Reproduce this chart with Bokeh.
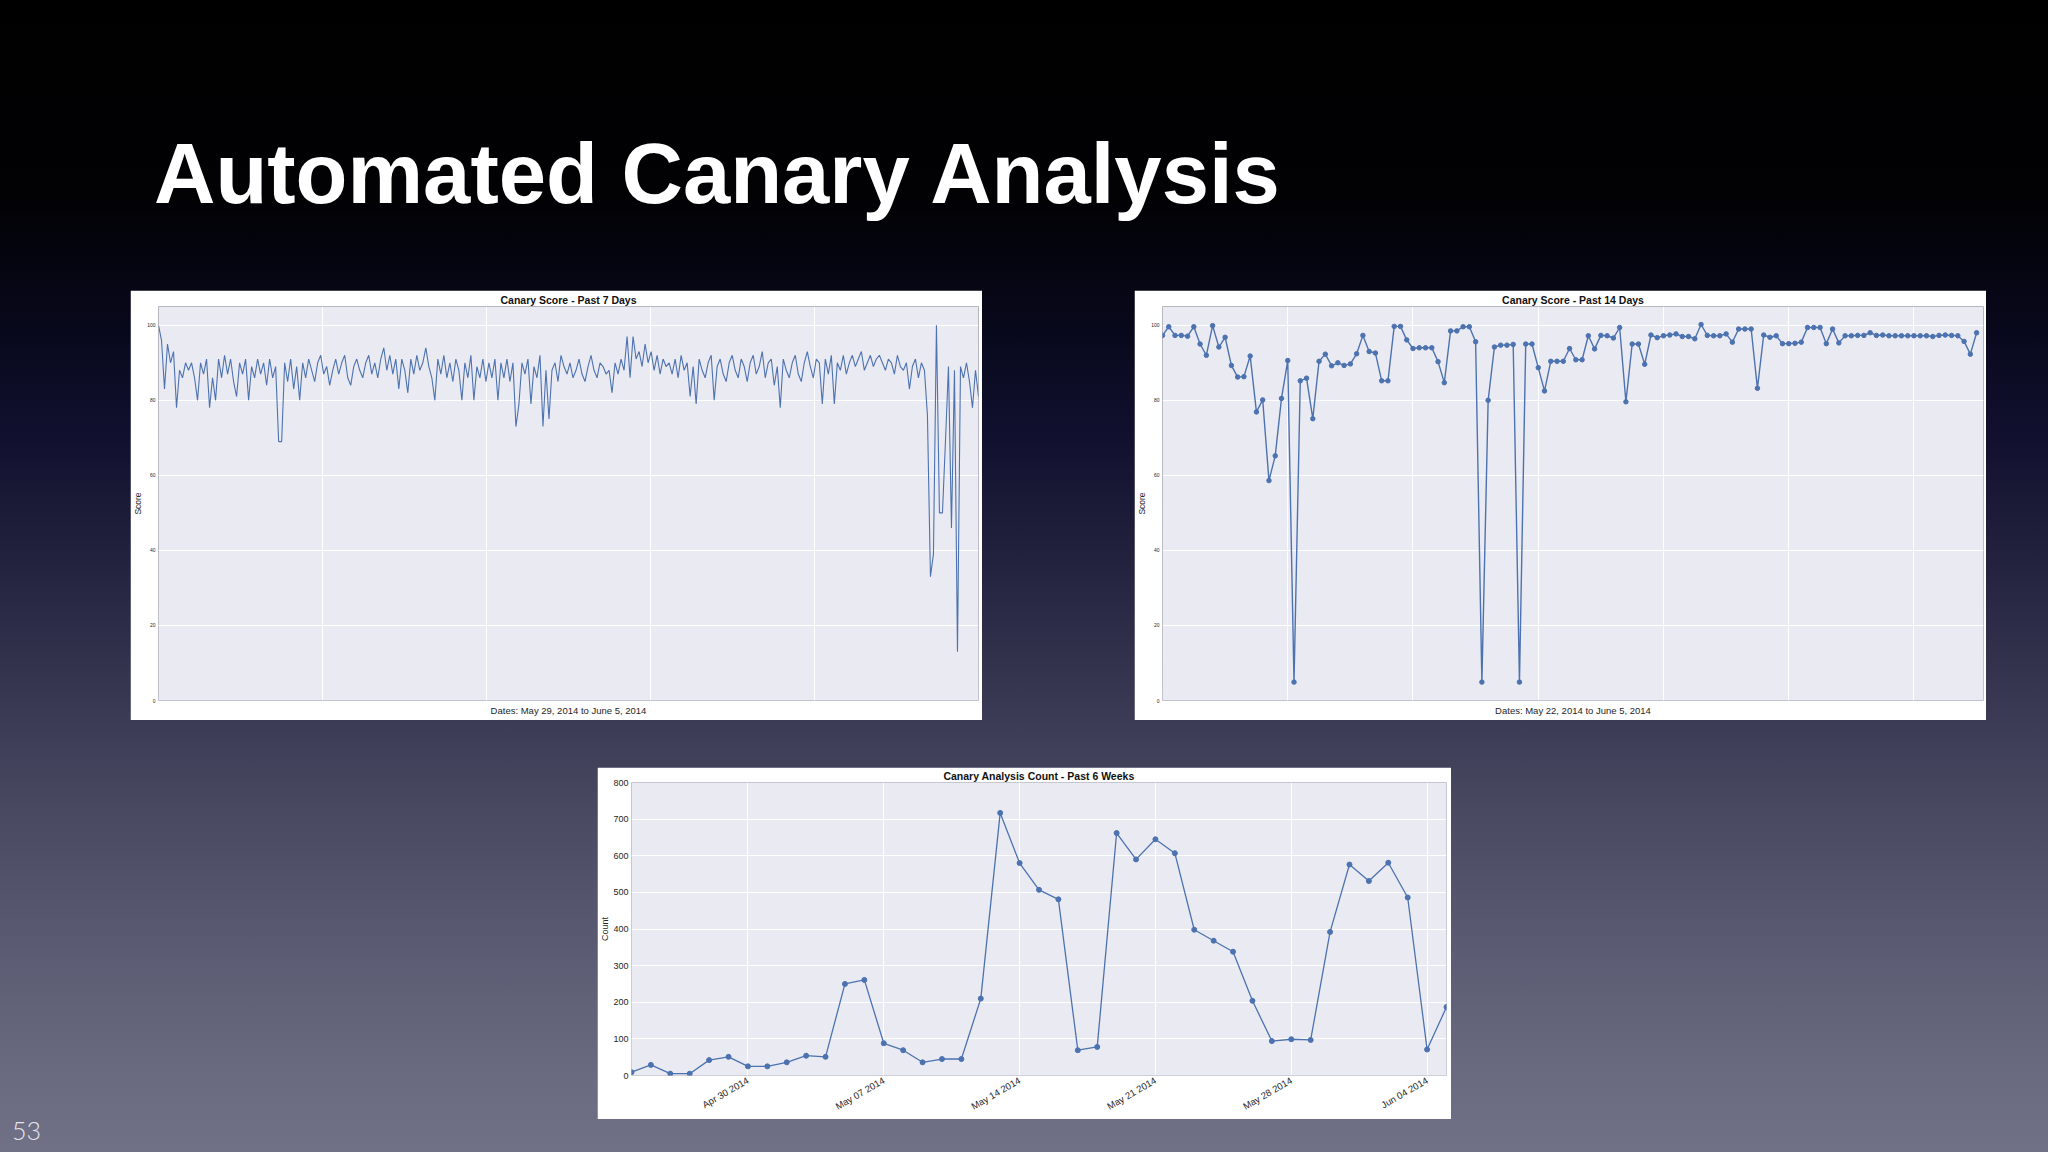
import math
import pandas as pd
from bokeh.plotting import figure
from bokeh.layouts import column, row
from bokeh.models import (Div, Spacer, FixedTicker, DatetimeTickFormatter, Range1d,
                          GlobalInlineStyleSheet, ColumnDataSource)
from bokeh.embed import file_html
from bokeh.resources import INLINE

# ---------------- data ----------------
slide_title = "Automated Canary Analysis"
page_number = "53"

title_7d = "Canary Score - Past 7 Days"
xlabel_7d = "Dates: May 29, 2014 to June 5, 2014"
score_7d = [
    100, 96, 83, 95, 90, 93, 78, 88, 86, 90,
    88, 90, 86, 80, 90, 87, 91, 78, 86, 80,
    91, 86, 92, 87, 91, 85, 81, 90, 87, 91,
    80, 89, 86, 91, 87, 90, 84, 91, 86, 89,
    69, 69, 90, 85, 91, 83, 89, 80, 90, 86,
    91, 88, 85, 90, 92, 87, 89, 84, 88, 91,
    87, 90, 92, 86, 84, 89, 91, 88, 86, 90,
    92, 87, 90, 86, 91, 94, 88, 92, 87, 91,
    83, 91, 88, 82, 91, 87, 92, 88, 90, 94,
    89, 86, 80, 91, 87, 92, 86, 90, 85, 91,
    88, 80, 90, 86, 92, 80, 89, 86, 91, 85,
    90, 86, 91, 80, 90, 86, 91, 85, 90, 73,
    79, 90, 87, 91, 79, 89, 86, 92, 73, 88,
    75, 88, 90, 85, 92, 89, 87, 90, 86, 88,
    91, 87, 85, 89, 92, 88, 86, 90, 89, 87,
    88, 82, 90, 87, 91, 88, 97, 86, 97, 91,
    93, 89, 95, 90, 93, 88, 92, 87, 91, 89,
    90, 87, 91, 86, 92, 88, 90, 81, 89, 79,
    91, 88, 86, 90, 92, 80, 89, 91, 87, 85,
    90, 92, 88, 86, 91, 89, 85, 90, 92, 87,
    89, 93, 86, 90, 91, 84, 89, 78, 91, 88,
    86, 90, 92, 87, 85, 90, 93, 89, 86, 91,
    90, 79, 91, 87, 92, 79, 90, 88, 92, 87,
    90, 92, 89, 91, 93, 88, 90, 92, 89, 91,
    92, 90, 88, 91, 90, 87, 92, 89, 88, 90,
    83, 89, 91, 86, 90, 88, 76, 33, 39, 100,
    50, 50, 69, 89, 46, 88, 13, 89, 86, 90,
    85, 78, 88, 81,
]

title_14d = "Canary Score - Past 14 Days"
xlabel_14d = "Dates: May 22, 2014 to June 5, 2014"
score_14d = [
    97.3, 99.6, 97.3, 97.3, 97.1, 99.6, 95.0, 92.0, 99.9, 94.2,
    96.8, 89.3, 86.2, 86.3, 91.8, 76.9, 80.1, 58.6, 65.2, 80.5,
    90.6, 4.9, 85.2, 85.9, 75.1, 90.4, 92.3, 89.2, 90.0, 89.3,
    89.7, 92.4, 97.3, 93.0, 92.6, 85.2, 85.2, 99.7, 99.7, 96.1,
    93.8, 94.0, 94.0, 94.0, 90.3, 84.7, 98.5, 98.5, 99.6, 99.6,
    95.6, 4.9, 80.0, 94.2, 94.7, 94.7, 94.9, 4.9, 95.0, 95.0,
    88.7, 82.5, 90.4, 90.4, 90.4, 93.8, 90.8, 90.8, 97.2, 93.7,
    97.3, 97.2, 96.6, 99.4, 79.6, 95.0, 95.0, 89.6, 97.4, 96.7,
    97.2, 97.4, 97.7, 97.0, 97.0, 96.4, 100.2, 97.3, 97.2, 97.2,
    97.7, 95.5, 99.0, 99.0, 99.0, 83.2, 97.4, 96.8, 97.2, 95.1,
    95.1, 95.2, 95.5, 99.4, 99.4, 99.4, 95.1, 99.0, 95.3, 97.2,
    97.2, 97.3, 97.3, 98.0, 97.3, 97.4, 97.2, 97.2, 97.2, 97.2,
    97.2, 97.2, 97.2, 97.0, 97.3, 97.4, 97.3, 97.2, 95.7, 92.3,
    98.0,
]
score_ticks = [0, 20, 40, 60, 80, 100]
score_label = "Score"

title_6w = "Canary Analysis Count - Past 6 Weeks"
start_6w = "2014-04-24"
counts_6w = [
    9, 29, 5, 5, 42, 51, 25, 25, 36, 54,
    51, 250, 261, 88, 69, 36, 45, 45, 210, 717,
    580, 507, 481, 69, 78, 662, 590, 645, 607, 398,
    368, 338, 204, 94, 99, 97, 392, 576, 531, 581,
    486, 71, 187,
]
tick_dates_6w = ["2014-04-30", "2014-05-07", "2014-05-14", "2014-05-21", "2014-05-28", "2014-06-04"]
count_ticks = [0, 100, 200, 300, 400, 500, 600, 700, 800]
count_label = "Count"

# ---------------- styling ----------------
FONT = "Liberation Sans"
BLUE = "#4c72b0"
PANEL = "#eaeaf2"
TXT = "#262626"


def base_style(p):
    p.title.text_font = FONT
    p.title.text_font_size = "10.5px"
    p.title.text_font_style = "bold"
    p.title.text_color = "#111111"
    p.title.align = "center"
    p.title.standoff = 1
    for ax in (p.xaxis, p.yaxis):
        ax.axis_line_color = None
        ax.major_tick_line_color = None
        ax.minor_tick_line_color = None
        ax.major_tick_out = 0
        ax.major_tick_in = 0
        ax.minor_tick_out = 0
        ax.minor_tick_in = 0
        ax.major_label_text_font = FONT
        ax.major_label_text_color = TXT
        ax.axis_label_text_font = FONT
        ax.axis_label_text_font_style = "normal"
        ax.axis_label_text_color = TXT
    p.xgrid.grid_line_color = "white"
    p.ygrid.grid_line_color = "white"
    p.xgrid.grid_line_width = 1
    p.ygrid.grid_line_width = 1


def score_fig(title, xlabel, values, xmax, grid_x, left, right):
    src = ColumnDataSource(dict(x=list(range(len(values))), y=values))
    p = figure(width=852, height=430, x_range=Range1d(0, xmax), y_range=Range1d(0, 105),
               output_backend="svg", toolbar_location=None, title=title,
               min_border_left=left, min_border_right=right, min_border_top=16,
               min_border_bottom=20, background_fill_color=PANEL,
               border_fill_color="white", outline_line_color=None, margin=0)
    base_style(p)
    p.xaxis.ticker = FixedTicker(ticks=[])
    p.xgrid.ticker = FixedTicker(ticks=grid_x)
    p.xaxis.major_label_standoff = 0
    p.xaxis.axis_label = xlabel
    p.xaxis.axis_label_text_font_size = "9.5px"
    p.xaxis.axis_label_standoff = 4
    p.yaxis.ticker = FixedTicker(ticks=score_ticks)
    p.yaxis.major_label_text_font_size = "5px"
    p.yaxis.major_label_standoff = 3
    p.yaxis.axis_label = score_label
    p.yaxis.axis_label_text_font_size = "8.5px"
    p.yaxis.axis_label_standoff = 1
    return p, src


n7 = len(score_7d)
p1, s1 = score_fig(title_7d, xlabel_7d, score_7d, n7 - 1,
                   [(n7 - 1) * k / 5 for k in range(1, 5)], 27, 4)
p1.line("x", "y", source=s1, line_color=BLUE, line_width=1.1)

n14 = len(score_14d)
p2, s2 = score_fig(title_14d, xlabel_14d, score_14d, n14 + 0.1,
                   [20, 40, 60, 80, 100, 120], 27, 3)
p2.line("x", "y", source=s2, line_color=BLUE, line_width=1.4)
p2.scatter("x", "y", source=s2, size=4.5, fill_color=BLUE, line_color=BLUE)

# six-week count chart
dates_6w = pd.date_range(start_6w, periods=len(counts_6w), freq="D")
s3 = ColumnDataSource(dict(x=dates_6w, y=counts_6w))
p3 = figure(width=854, height=352, x_axis_type="datetime",
            x_range=Range1d(dates_6w[0], dates_6w[-1]), y_range=Range1d(0, 800),
            output_backend="svg", toolbar_location=None, title=title_6w,
            min_border_left=33, min_border_right=5, min_border_top=15, min_border_bottom=42,
            background_fill_color=PANEL, border_fill_color="white",
            outline_line_color=None, margin=0)
base_style(p3)
tick_ms = [pd.Timestamp(d).value // 10**6 for d in tick_dates_6w]
p3.xaxis.ticker = FixedTicker(ticks=tick_ms)
fmt = "%b %d %Y"
p3.xaxis.formatter = DatetimeTickFormatter(microseconds=fmt, milliseconds=fmt, seconds=fmt,
                                           minsec=fmt, minutes=fmt, hourmin=fmt, hours=fmt,
                                           days=fmt, months=fmt, years=fmt)
p3.xaxis.major_label_orientation = math.pi / 6
p3.xaxis.major_label_text_font_size = "9.5px"
p3.xaxis.major_label_standoff = 4
p3.yaxis.ticker = FixedTicker(ticks=count_ticks)
p3.yaxis.major_label_text_font_size = "9px"
p3.yaxis.major_label_standoff = 3
p3.yaxis.axis_label = count_label
p3.yaxis.axis_label_text_font_size = "9px"
p3.yaxis.axis_label_standoff = 0
p3.line("x", "y", source=s3, line_color=BLUE, line_width=1.3)
p3.scatter("x", "y", source=s3, size=5, fill_color=BLUE, line_color=BLUE)

# ---------------- slide ----------------
title_div = Div(text=slide_title, width=1250, height=85, margin=0,
                styles={"color": "white", "font-family": "'Liberation Sans', Arial, sans-serif",
                        "font-weight": "bold", "font-size": "85px", "line-height": "85px",
                        "white-space": "nowrap"})
num_div = Div(text=page_number, width=40, height=25, margin=0,
              styles={"color": "#e4e4ec", "font-family": "Lato, 'Open Sans', sans-serif",
                      "font-weight": "300", "font-size": "25px", "line-height": "25px",
                      "white-space": "nowrap"})

bg = GlobalInlineStyleSheet(css="""
html { height: 100%; margin: 0; background: linear-gradient(to bottom,
  #000000 0px, #020205 200px, #08081c 330px, #10102e 430px, #22223f 560px,
  #35354f 680px, #4a4a63 820px, #5c5c74 960px, #6a6a80 1080px, #707086 1152px) no-repeat; }
body { background: transparent; margin: 0; padding: 0; }
""")

root = column(
    Spacer(width=10, height=131, margin=0),
    row(Spacer(width=154, height=85, margin=0), title_div, margin=0),
    Spacer(width=10, height=74, margin=0),
    row(Spacer(width=130, height=430, margin=0), p1,
        Spacer(width=152, height=430, margin=0), p2, margin=0),
    Spacer(width=10, height=47, margin=0),
    row(Spacer(width=12, height=10, margin=0),
        column(Spacer(width=10, height=351, margin=0), num_div, margin=0),
        Spacer(width=545, height=10, margin=0), p3, margin=0),
    margin=0, stylesheets=[bg],
)

open("out.html", "w").write(file_html(root, INLINE))
